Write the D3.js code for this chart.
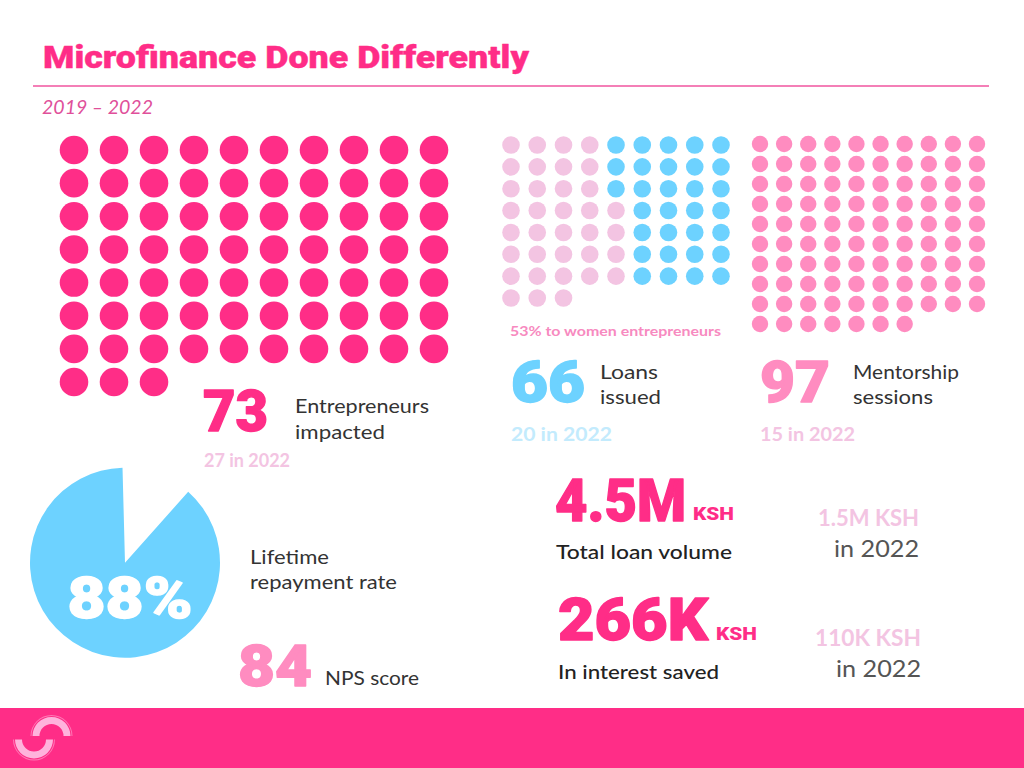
<!DOCTYPE html>
<html><head><meta charset="utf-8">
<script src="https://cdn.jsdelivr.net/npm/d3@7"></script>
<style>html,body{margin:0;padding:0;background:#fff}svg{display:block}text{font-family:Lato,"Noto Sans",sans-serif}</style>
</head><body><svg id="c" width="1024" height="768"></svg>
<script>
const title = "Microfinance Done Differently";
const period = "2019 – 2022";
const entrepreneursTotal = 73;
const loansWomenPerRow = [4,4,4,5,5,5,5,3];
const loansOthersPerRow = [5,5,5,4,4,4,4,0];
const mentorshipTotal = 97;
const repaymentRate = 88;

const PINK="#ff2d87", BLUE="#6dd2ff", LIGHT="#f3c4e2", MID="#ff8cc0";
const HEAVY="Roboto, Inter, sans-serif";
const svg=d3.select("#c");
function txt(s,x,y,size,fill,weight,opt={}){
  const t=svg.append("text").attr("x",x).attr("y",y).attr("font-size",size).attr("fill",fill).attr("font-weight",weight).text(s);
  if(opt.anchor)t.attr("text-anchor",opt.anchor);
  if(opt.italic)t.attr("font-style","italic");
  if(opt.len)t.attr("textLength",opt.len).attr("lengthAdjust","spacingAndGlyphs");
  if(opt.font)t.style("font-family",opt.font);
  if(opt.bold)t.attr("stroke",fill).attr("stroke-width",opt.bold).attr("stroke-linejoin","round");
  return t;
}
function grid(cells,xr,yr,cols,rows,r){
  const x=d3.scalePoint().domain(d3.range(cols)).range(xr);
  const y=d3.scalePoint().domain(d3.range(rows)).range(yr);
  svg.append("g").selectAll("circle").data(cells).join("circle")
    .attr("cx",d=>x(d.c)).attr("cy",d=>y(d.r)).attr("r",r).attr("fill",d=>d.f);
}
function fill(total,cols,f){return d3.range(total).map(i=>({c:i%cols,r:Math.floor(i/cols),f}));}
const big={font:HEAVY,bold:1.4};

// title
txt(title,43,68,31,PINK,900,{len:486,font:HEAVY,bold:0.4});
svg.append("line").attr("x1",33).attr("x2",989).attr("y1",86).attr("y2",86).attr("stroke","#f0559f").attr("stroke-width",1.6);
txt(period,42,114,19,"#e0509a",400,{italic:true,len:111});

// grids
grid(fill(entrepreneursTotal,10,PINK),[74,434],[150,382],10,8,14.3);
const loanCells=[];
loansWomenPerRow.forEach((n,r)=>{
  d3.range(n).forEach(c=>loanCells.push({c,r,f:LIGHT}));
  d3.range(loansOthersPerRow[r]).forEach(i=>loanCells.push({c:n+i,r,f:BLUE}));
});
grid(loanCells,[511,721],[145,298],9,8,8.8);
grid(fill(mentorshipTotal,10,MID),[760,977],[144,324],10,10,8.2);

// pie
const pieG=svg.append("g").attr("transform","translate(125,562.7)");
const rot=-1.5*Math.PI/180;
const pie=d3.pie().sort(null).startAngle(2*Math.PI*(1-repaymentRate/100)+rot).endAngle(2*Math.PI+rot).value(d=>d);
pieG.selectAll("path").data(pie([repaymentRate])).join("path")
  .attr("d",d3.arc().innerRadius(0).outerRadius(95)).attr("fill",BLUE);
txt("88%",130,617.5,57,"#fff",900,{anchor:"middle",len:125,...big});

// stats
txt("73",203,431,58,PINK,900,{len:65,...big});
txt("Entrepreneurs",295,413,19,"#333",400,{len:134});
txt("impacted",295,439,19,"#333",400,{len:90});
txt("27 in 2022",204,467,18,LIGHT,700,{len:86});

txt("53% to women entrepreneurs",510,336,14,"#f78ac0",700,{len:211});
txt("66",511,402,58,BLUE,900,{len:74,...big});
txt("Loans",600,379,19,"#333",400,{len:58});
txt("issued",600,404,19,"#333",400,{len:61});
txt("20 in 2022",511,441,18,"#c3ebfd",700,{len:101});

txt("97",760,402,58,MID,900,{len:70,...big});
txt("Mentorship",853,379,19,"#333",400,{len:106});
txt("sessions",853,404,19,"#333",400,{len:80});
txt("15 in 2022",760,441,18,LIGHT,700,{len:95});

txt("Lifetime",250,564,19,"#333",400,{len:79});
txt("repayment rate",250,589,19,"#333",400,{len:147});
txt("84",238,686,58,MID,900,{len:74,...big});
txt("NPS score",325,685,19,"#333",400,{len:94});

txt("4.5M",555,521,60,PINK,900,{len:131,...big});
txt("KSH",693,520,18,PINK,900,{len:41,font:HEAVY});
txt("Total loan volume",556,559,19,"#222",500,{len:176});
txt("1.5M KSH",919,526,23,LIGHT,700,{anchor:"end",len:101});
txt("in 2022",919,557,23,"#555",400,{anchor:"end",len:85});

txt("266K",558,640,60,PINK,900,{len:150,...big});
txt("KSH",716,640,18,PINK,900,{len:41,font:HEAVY});
txt("In interest saved",558,679,19,"#222",500,{len:161});
txt("110K KSH",921,646,23,LIGHT,700,{anchor:"end",len:106});
txt("in 2022",921,677,23,"#555",400,{anchor:"end",len:85});

// footer
svg.append("rect").attr("x",0).attr("y",708).attr("width",1024).attr("height",60).attr("fill",PINK);
const arc=d3.arc();
const logo=svg.append("g");
[[51.5,736,-Math.PI/2,Math.PI/2],[34,739.5,Math.PI/2,3*Math.PI/2]].forEach(([cx,cy,a0,a1])=>{
  logo.append("path").attr("transform",`translate(${cx},${cy})`).attr("fill","#ffb3dc")
    .attr("d",arc({innerRadius:12,outerRadius:19,startAngle:a0,endAngle:a1}));
  logo.append("path").attr("transform",`translate(${cx},${cy})`).attr("fill","#ff77b5")
    .attr("d",arc({innerRadius:20,outerRadius:21,startAngle:a0,endAngle:a1}));
});
</script></body></html>
